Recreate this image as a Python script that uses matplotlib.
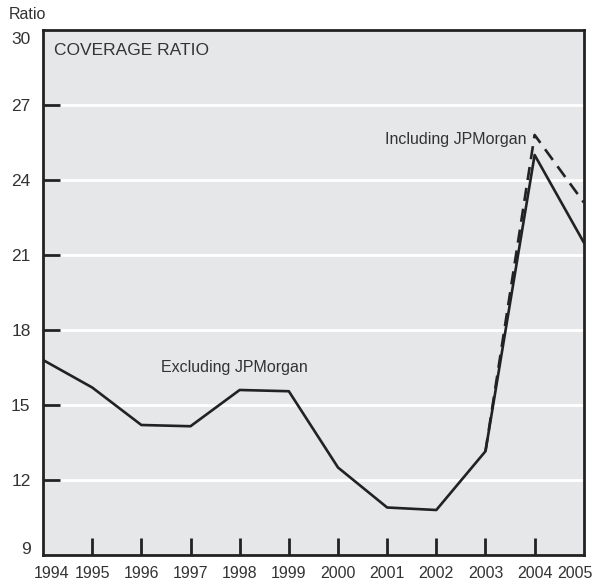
import matplotlib.pyplot as plt
import matplotlib.transforms as mtransforms

years = [1994, 1995, 1996, 1997, 1998, 1999, 2000, 2001, 2002, 2003, 2004, 2005]
excluding = [16.8, 15.7, 14.2, 14.15, 15.6, 15.55, 12.5, 10.9, 10.8, 13.15, 25.0, 21.5]
including = [16.8, 15.7, 14.2, 14.15, 15.6, 15.55, 12.5, 10.9, 10.8, 13.15, 25.8, 23.1]
yticks = [9, 12, 15, 18, 21, 24, 27, 30]

plt.rcParams['font.family'] = ['Liberation Sans', 'DejaVu Sans']
txt = '#333333'

fig = plt.figure(figsize=(6, 5.87), dpi=100)
ax = fig.add_axes([0.0717, 0.0545, 0.9013, 0.8945])
ax.set_facecolor('#e6e7e8')

for y in yticks[1:-1]:
    ax.axhline(y, color='white', lw=2, zorder=1)

ax.plot(years[9:], including[9:], color='#222222', lw=1.9, ls=(0, (5, 3)), zorder=3)
ax.plot(years, excluding, color='#222222', lw=1.9, zorder=4)

ax.set_xlim(1994, 2005)
ax.set_ylim(9, 30)
ax.set_yticks(yticks)
ax.set_yticklabels([str(v) for v in yticks], fontsize=12.5, color=txt)
ax.set_xticks(years)
ax.set_xticklabels([str(v) for v in years], fontsize=11.5, color=txt)
ax.tick_params(axis='both', direction='in', length=12, width=2, color='#222222')
ax.tick_params(axis='x', pad=8)
ax.tick_params(axis='y', pad=9)

xt = ax.xaxis.get_major_ticks()
xt[0].tick1line.set_visible(False)
xt[-1].tick1line.set_visible(False)
yt = ax.yaxis.get_major_ticks()
yt[0].tick1line.set_visible(False)
yt[-1].tick1line.set_visible(False)

lbls = ax.get_xticklabels()
lbls[0].set_transform(lbls[0].get_transform() + mtransforms.ScaledTranslation(0.09, 0, fig.dpi_scale_trans))
lbls[-1].set_transform(lbls[-1].get_transform() + mtransforms.ScaledTranslation(-0.09, 0, fig.dpi_scale_trans))
ylb = ax.get_yticklabels()
ylb[0].set_transform(ylb[0].get_transform() + mtransforms.ScaledTranslation(0, 0.07, fig.dpi_scale_trans))
ylb[-1].set_transform(ylb[-1].get_transform() + mtransforms.ScaledTranslation(0, -0.08, fig.dpi_scale_trans))

for s in ax.spines.values():
    s.set_linewidth(2)
    s.set_color('#222222')

ax.text(0.02, 0.975, 'COVERAGE RATIO', transform=ax.transAxes, fontsize=12.5,
        color=txt, va='top', ha='left')
fig.text(0.014, 0.975, 'Ratio', fontsize=11.5, color=txt, va='center', ha='left')
ax.text(2002.4, 25.6, 'Including JPMorgan', fontsize=11.5, color=txt, ha='center', va='center')
ax.text(1997.9, 16.5, 'Excluding JPMorgan', fontsize=11.5, color=txt, ha='center', va='center')

fig.savefig('out.png', dpi=100)
